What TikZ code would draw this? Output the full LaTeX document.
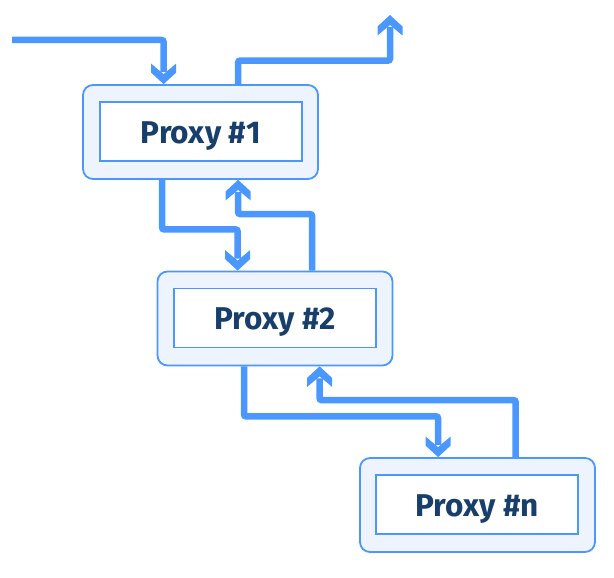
\documentclass[tikz,border=0pt]{standalone}
\usepackage{fontspec}
\setmainfont{Fira Sans}
\usetikzlibrary{calc}
\definecolor{lineblue}{HTML}{4A97FF}
\definecolor{boxfill}{HTML}{EDF4FE}
\definecolor{txt}{HTML}{183F6C}
\pgfdeclarearrow{
  name=Chev,
  setup code={
    \pgfarrowssettipend{0pt}
    \pgfarrowssetlineend{-12pt}
    \pgfarrowshullpoint{0pt}{0pt}
    \pgfarrowsupperhullpoint{-11.5pt}{12.5pt}
    \pgfarrowsupperhullpoint{-20.5pt}{12.5pt}
  },
  drawing code={
    \pgfpathmoveto{\pgfqpoint{0pt}{0pt}}
    \pgfpathlineto{\pgfqpoint{-11.5pt}{12.5pt}}
    \pgfpathlineto{\pgfqpoint{-20.5pt}{12.5pt}}
    \pgfpathlineto{\pgfqpoint{-10pt}{0pt}}
    \pgfpathlineto{\pgfqpoint{-20.5pt}{-12.5pt}}
    \pgfpathlineto{\pgfqpoint{-11.5pt}{-12.5pt}}
    \pgfpathclose
    \pgfusepathqfill
  }
}
\tikzset{
  outerbox/.style={draw=lineblue, fill=boxfill, line width=1.8pt, rounded corners=10pt,
    minimum width=235pt, minimum height=94pt, inner sep=0pt},
  innerbox/.style={draw=lineblue, fill=white, line width=1.8pt,
    minimum width=202pt, minimum height=59pt, inner sep=0pt,
    text height=23.5pt, text depth=0pt,
    font=\bfseries\fontsize{31.5}{34}\selectfont, text=txt},
  flow/.style={color=lineblue, line width=6.5pt, rounded corners=2pt, -Chev}
}
\begin{document}
\begin{tikzpicture}[x=1pt,y=-1pt]
\useasboundingbox (0,0) rectangle (614,578);
\node[outerbox] (p1) at (200.5,132) {};
\node[innerbox] (p1i) at (201,131.5) {Proxy \#1};
\node[outerbox] (p2) at (275,318.5) {};
\node[innerbox] (p2i) at (275,318) {Proxy \#2};
\node[outerbox] (pn) at (477.5,505) {};
\node[innerbox] (pni) at (477,504.5) {Proxy \#n};
\coordinate (start) at (12,40);
\coordinate (out) at (390,15);
\draw[flow] (start) -| ([xshift=81.5pt]p1.north west);
\draw[flow] ([xshift=156pt]p1.north west) -- ++(0,-23.5) -| (out);
\draw[flow] ([xshift=80pt]p1.south west) -- ++(0,49.5) -| ([xshift=81pt]p2.north west);
\draw[flow] ([xshift=155.5pt]p2.north west) -- ++(0,-56.5) -| ([xshift=156pt]p1.south west);
\draw[flow] ([xshift=87.5pt]p2.south west) -- ++(0,50) -| ([xshift=79pt]pn.north west);
\draw[flow] ([xshift=156.5pt]pn.north west) -- ++(0,-57) -| ([xshift=163pt]p2.south west);
\end{tikzpicture}
\end{document}
